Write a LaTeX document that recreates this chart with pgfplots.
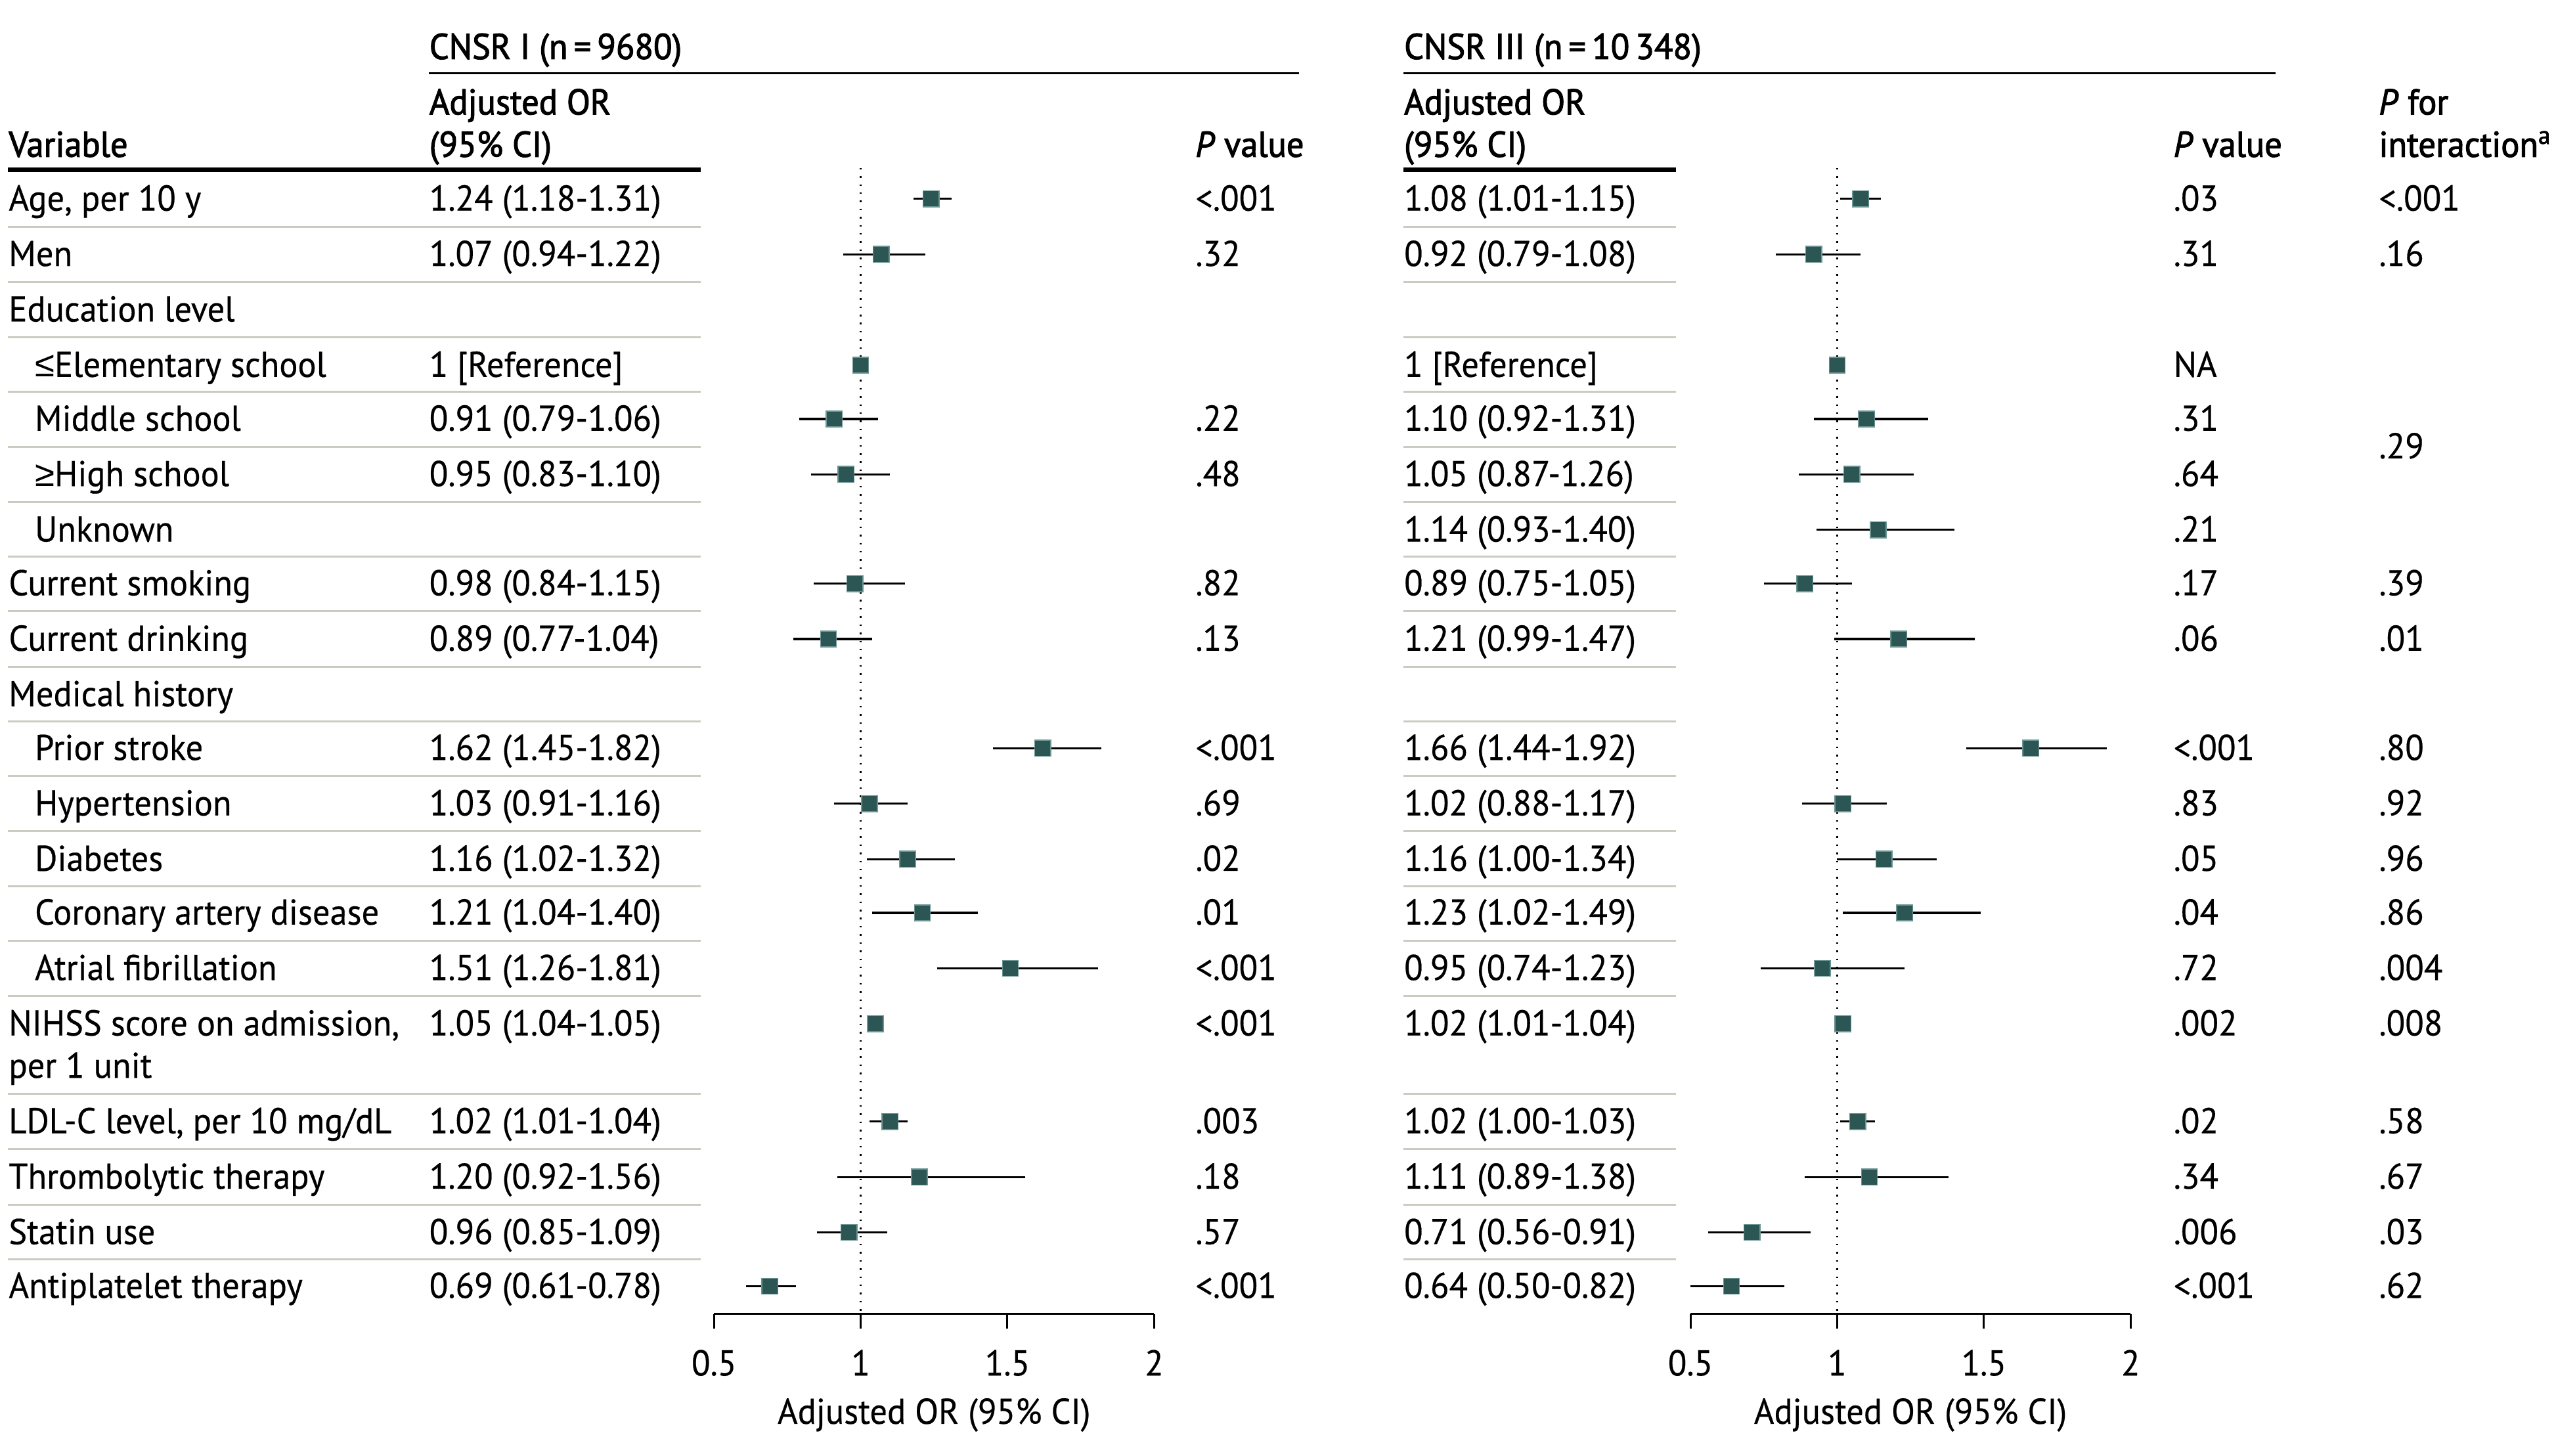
\documentclass[border=0pt]{standalone}
\usepackage{fontspec}
\setmainfont{PT Sans}[FakeStretch=0.96, FakeBold=0.4]
\newfontfamily\hdr{PT Sans}[FakeStretch=0.96, FakeBold=2]
\newfontfamily\symf{Liberation Sans}
\usepackage{pgfplots}
\usepackage{pgfplotstable}
\pgfplotsset{compat=1.18}
\definecolor{mk}{HTML}{2B5654}
\definecolor{mkedge}{HTML}{6A9592}
\definecolor{sep}{HTML}{C9CCBF}
\newcommand\fs{\fontsize{11}{13}\selectfont}

\pgfplotstableread{
y or lo hi
122 1.24 1.18 1.31
156 1.07 0.94 1.22
224 1.00 1.00 1.00
257 0.91 0.79 1.06
291 0.95 0.83 1.10
358 0.98 0.84 1.15
392 0.89 0.77 1.04
459 1.62 1.45 1.82
493 1.03 0.91 1.16
527 1.16 1.02 1.32
560 1.21 1.04 1.40
594 1.51 1.26 1.81
628 1.05 1.04 1.05
688 1.10 1.03 1.16
722 1.20 0.92 1.56
756 0.96 0.85 1.09
789 0.69 0.61 0.78
}\leftdata

\pgfplotstableread{
y or lo hi
122 1.08 1.01 1.15
156 0.92 0.79 1.08
224 1.00 1.00 1.00
257 1.10 0.92 1.31
291 1.05 0.87 1.26
325 1.14 0.93 1.40
358 0.89 0.75 1.05
392 1.21 0.99 1.47
459 1.66 1.44 1.92
493 1.02 0.88 1.17
527 1.16 1.00 1.34
560 1.23 1.02 1.49
594 0.95 0.74 1.23
628 1.02 1.01 1.04
688 1.07 1.01 1.13
722 1.11 0.89 1.38
756 0.71 0.56 0.91
789 0.64 0.50 0.82
}\rightdata

\pgfplotsset{
  forest/.style={
    anchor=south west,
    scale only axis, width=135pt, height=353pt,
    xmin=0.5, xmax=2, ymin=100, ymax=806, y dir=reverse,
    axis x line*=bottom, axis y line=none,
    x axis line style={-, line width=0.6pt},
    xtick={0.5,1,1.5,2}, tick align=outside, major tick length=4.5pt,
    tick style={black, line width=0.6pt},
    xticklabel style={font=\fs, yshift=-3pt},
    /pgf/number format/assume math mode=true,
    xlabel={Adjusted OR (95\% CI)}, xlabel style={font=\fs, yshift=0pt},
    clip=false,
  },
  ebars/.style={draw=none, mark=none,
    error bars/.cd, x dir=both, x explicit, error mark=none,
    error bar style={black, line width=0.65pt}},
  boxes/.style={only marks, mark=square*, mark size=2.45pt,
    mark options={fill=mk, draw=mkedge, line width=0.3pt}},
}

\newcommand\T[3]{\node[anchor=base west, inner sep=0pt, font=\fs, yshift=-3.6pt] at (#1,#2) {#3};}
\newcommand\Hd[3]{\node[anchor=base west, inner sep=0pt, font=\fs\hdr, yshift=-3.6pt] at (#1,#2) {#3};}

\begin{document}
\begin{tikzpicture}[x=0.5pt, y=-0.5pt]
\useasboundingbox (0,0) rectangle (1568,893);

% ---------- left forest ----------
\begin{axis}[forest, at={(219pt,-403pt)}]
\addplot[black, dotted, line width=0.5pt] coordinates {(1,103) (1,806)};
\addplot[ebars] table[x=or, y=y,
  x error plus expr=\thisrow{hi}-\thisrow{or},
  x error minus expr=\thisrow{or}-\thisrow{lo}] {\leftdata};
\addplot[boxes] table[x=or, y=y] {\leftdata};
\addplot[white, line width=0.6pt] coordinates {(1.04,628) (1.05,628)};
\end{axis}

% ---------- right forest ----------
\begin{axis}[forest, at={(518.5pt,-403pt)}]
\addplot[black, dotted, line width=0.5pt] coordinates {(1,103) (1,806)};
\addplot[ebars] table[x=or, y=y,
  x error plus expr=\thisrow{hi}-\thisrow{or},
  x error minus expr=\thisrow{or}-\thisrow{lo}] {\rightdata};
\addplot[boxes] table[x=or, y=y] {\rightdata};
\addplot[white, line width=0.6pt] coordinates {(1.01,628) (1.04,628)};
\end{axis}

% ---------- rules ----------
\draw[line width=0.6pt] (263,45) -- (797,45);
\draw[line width=0.6pt] (861,45) -- (1396,45);
\draw[line width=1.4pt] (5,104) -- (430,104);
\draw[line width=1.4pt] (861,104) -- (1028,104);
\foreach \yy in {139,173,207,240.5,274,308,341.5,375,409,442.5,476,510,543.5,577,611,671,705,739,772.5}{
  \draw[sep, line width=0.6pt] (5,\yy) -- (430,\yy);
  \draw[sep, line width=0.6pt] (861,\yy) -- (1028,\yy);
}

% ---------- headers ----------
\Hd{263}{29}{CNSR I (n\,=\,9680)}
\Hd{861}{29}{CNSR III (n\,=\,10\,348)}
\Hd{263}{63}{Adjusted OR}
\Hd{263}{89}{(95\% CI)}
\Hd{5}{89}{Variable}
\Hd{733}{89}{\textit{P} value}
\Hd{861}{63}{Adjusted OR}
\Hd{861}{89}{(95\% CI)}
\Hd{1333}{89}{\textit{P} value}
\Hd{1459}{63}{\textit{P} for}
\Hd{1459}{89}{interaction\textsuperscript{a}}

% ---------- variable names ----------
\T{5}{122}{Age, per 10 y}
\T{5}{156}{Men}
\T{5}{190}{Education level}
\T{21}{224}{{\symf ≤}Elementary school}
\T{21}{257}{Middle school}
\T{21}{291}{{\symf ≥}High school}
\T{21}{325}{Unknown}
\T{5}{358}{Current smoking}
\T{5}{392}{Current drinking}
\T{5}{426}{Medical history}
\T{21}{459}{Prior stroke}
\T{21}{493}{Hypertension}
\T{21}{527}{Diabetes}
\T{21}{560}{Coronary artery disease}
\T{21}{594}{Atrial fibrillation}
\T{5}{628}{NIHSS score on admission,}
\T{5}{654}{per 1 unit}
\T{5}{688}{LDL-C level, per 10 mg/dL}
\T{5}{722}{Thrombolytic therapy}
\T{5}{756}{Statin use}
\T{5}{789}{Antiplatelet therapy}

% ---------- CNSR I OR ----------
\T{263}{122}{1.24 (1.18-1.31)}
\T{263}{156}{1.07 (0.94-1.22)}
\T{263}{224}{1 [Reference]}
\T{263}{257}{0.91 (0.79-1.06)}
\T{263}{291}{0.95 (0.83-1.10)}
\T{263}{358}{0.98 (0.84-1.15)}
\T{263}{392}{0.89 (0.77-1.04)}
\T{263}{459}{1.62 (1.45-1.82)}
\T{263}{493}{1.03 (0.91-1.16)}
\T{263}{527}{1.16 (1.02-1.32)}
\T{263}{560}{1.21 (1.04-1.40)}
\T{263}{594}{1.51 (1.26-1.81)}
\T{263}{628}{1.05 (1.04-1.05)}
\T{263}{688}{1.02 (1.01-1.04)}
\T{263}{722}{1.20 (0.92-1.56)}
\T{263}{756}{0.96 (0.85-1.09)}
\T{263}{789}{0.69 (0.61-0.78)}

% ---------- CNSR I P ----------
\T{733}{122}{<.001}
\T{733}{156}{.32}
\T{733}{257}{.22}
\T{733}{291}{.48}
\T{733}{358}{.82}
\T{733}{392}{.13}
\T{733}{459}{<.001}
\T{733}{493}{.69}
\T{733}{527}{.02}
\T{733}{560}{.01}
\T{733}{594}{<.001}
\T{733}{628}{<.001}
\T{733}{688}{.003}
\T{733}{722}{.18}
\T{733}{756}{.57}
\T{733}{789}{<.001}

% ---------- CNSR III OR ----------
\T{861}{122}{1.08 (1.01-1.15)}
\T{861}{156}{0.92 (0.79-1.08)}
\T{861}{224}{1 [Reference]}
\T{861}{257}{1.10 (0.92-1.31)}
\T{861}{291}{1.05 (0.87-1.26)}
\T{861}{325}{1.14 (0.93-1.40)}
\T{861}{358}{0.89 (0.75-1.05)}
\T{861}{392}{1.21 (0.99-1.47)}
\T{861}{459}{1.66 (1.44-1.92)}
\T{861}{493}{1.02 (0.88-1.17)}
\T{861}{527}{1.16 (1.00-1.34)}
\T{861}{560}{1.23 (1.02-1.49)}
\T{861}{594}{0.95 (0.74-1.23)}
\T{861}{628}{1.02 (1.01-1.04)}
\T{861}{688}{1.02 (1.00-1.03)}
\T{861}{722}{1.11 (0.89-1.38)}
\T{861}{756}{0.71 (0.56-0.91)}
\T{861}{789}{0.64 (0.50-0.82)}

% ---------- CNSR III P ----------
\T{1333}{122}{.03}
\T{1333}{156}{.31}
\T{1333}{224}{NA}
\T{1333}{257}{.31}
\T{1333}{291}{.64}
\T{1333}{325}{.21}
\T{1333}{358}{.17}
\T{1333}{392}{.06}
\T{1333}{459}{<.001}
\T{1333}{493}{.83}
\T{1333}{527}{.05}
\T{1333}{560}{.04}
\T{1333}{594}{.72}
\T{1333}{628}{.002}
\T{1333}{688}{.02}
\T{1333}{722}{.34}
\T{1333}{756}{.006}
\T{1333}{789}{<.001}

% ---------- interaction ----------
\T{1459}{122}{<.001}
\T{1459}{156}{.16}
\T{1459}{274}{.29}
\T{1459}{358}{.39}
\T{1459}{392}{.01}
\T{1459}{459}{.80}
\T{1459}{493}{.92}
\T{1459}{527}{.96}
\T{1459}{560}{.86}
\T{1459}{594}{.004}
\T{1459}{628}{.008}
\T{1459}{688}{.58}
\T{1459}{722}{.67}
\T{1459}{756}{.03}
\T{1459}{789}{.62}
\end{tikzpicture}
\end{document}
